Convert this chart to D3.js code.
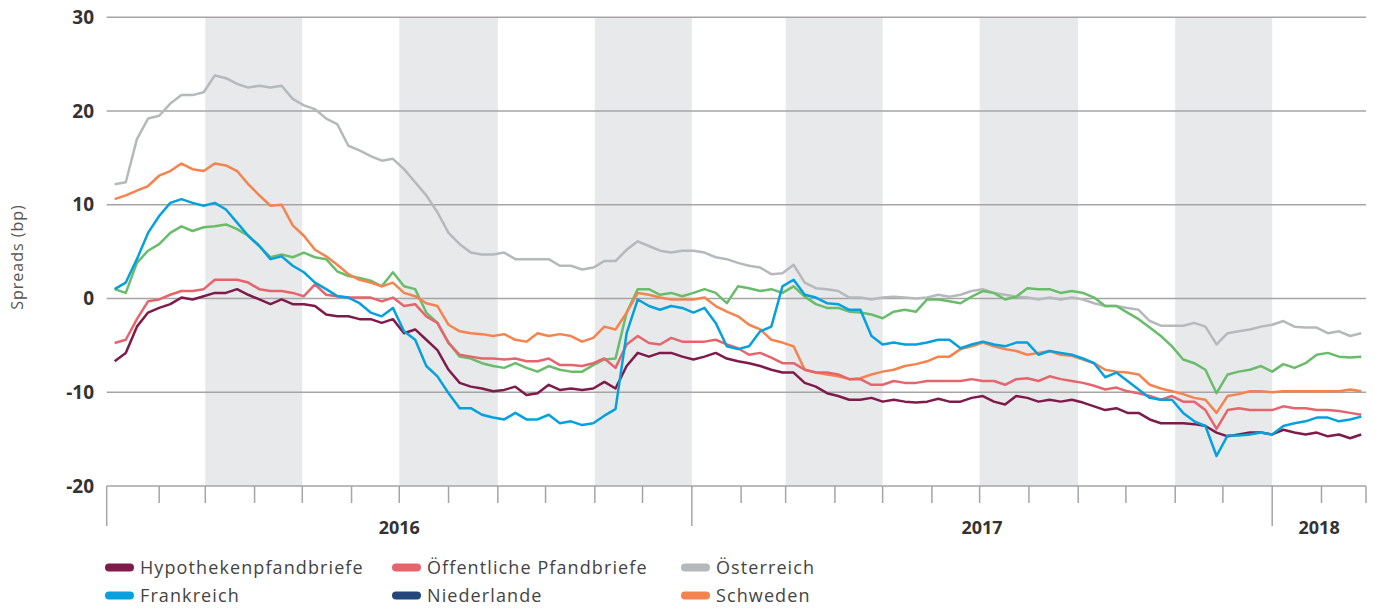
<!DOCTYPE html>
<html>
<head>
<meta charset="utf-8">
<script src="https://cdn.jsdelivr.net/npm/d3@7"></script>
<style>
  body { margin: 0; background: #fff; }
  svg { display: block; }
</style>
</head>
<body>
<svg id="chart" width="1375" height="608"></svg>
<script>
// weekly observations, first one on 4 Jan 2016
var startDate = new Date(2016, 0, 4);

var hypothekenpfandbriefe = [
    -6.7, -5.8, -3.0, -1.5, -1.0, -0.6, 0.1, -0.1, 0.25, 0.6, 0.6, 1.0, 0.4, -0.1, -0.6, -0.1, -0.6, -0.6, -0.8,
    -1.7, -1.9, -1.9, -2.2, -2.2, -2.6, -2.2, -3.7, -3.3, -4.4, -5.5, -7.6, -9.0, -9.4, -9.6, -9.9, -9.75, -9.4, -10.3,
    -10.1, -9.2, -9.75, -9.6, -9.75, -9.6, -8.9, -9.6, -7.2, -5.8, -6.2, -5.8, -5.8, -6.2, -6.5, -6.2, -5.8, -6.4, -6.7,
    -6.9, -7.2, -7.6, -7.9, -7.9, -9.0, -9.4, -10.1, -10.4, -10.8, -10.8, -10.6, -11.0, -10.8, -11.0, -11.1, -11.0, -10.7, -11.0,
    -11.0, -10.6, -10.4, -11.0, -11.3, -10.4, -10.6, -11.0, -10.8, -11.0, -10.8, -11.1, -11.5, -11.9, -11.7, -12.2, -12.2, -12.9, -13.3,
    -13.3, -13.3, -13.4, -13.6, -14.3, -14.7, -14.5, -14.3, -14.3, -14.5, -14.0, -14.3, -14.5, -14.3, -14.7, -14.5, -14.9, -14.5
];
var oeffentlichePfandbriefe = [
    -4.75, -4.4, -2.2, -0.3, -0.1, 0.4, 0.8, 0.8, 1.0, 2.0, 2.0, 2.0, 1.7, 1.0, 0.8, 0.8, 0.6, 0.25, 1.5,
    0.4, 0.25, 0.1, 0.1, 0.1, -0.3, 0.1, -0.8, -0.6, -1.9, -2.6, -4.75, -6.0, -6.2, -6.4, -6.4, -6.5, -6.4, -6.7,
    -6.7, -6.4, -7.1, -7.1, -7.2, -6.9, -6.4, -7.4, -4.9, -4.0, -4.75, -4.9, -4.2, -4.6, -4.6, -4.6, -4.4, -4.9, -5.3,
    -6.0, -5.8, -6.3, -6.9, -6.9, -7.6, -7.9, -7.9, -8.1, -8.6, -8.6, -9.2, -9.2, -8.8, -9.0, -9.0, -8.8, -8.8, -8.8,
    -8.8, -8.6, -8.8, -8.8, -9.2, -8.6, -8.5, -8.8, -8.3, -8.6, -8.8, -9.0, -9.3, -9.7, -9.5, -9.9, -10.1, -10.4, -10.8,
    -10.4, -11.0, -11.0, -11.9, -13.9, -11.9, -11.7, -11.9, -11.9, -11.9, -11.5, -11.7, -11.7, -11.9, -11.9, -12.0, -12.2, -12.4
];
var oesterreich = [
    12.2, 12.4, 17.0, 19.2, 19.5, 20.8, 21.7, 21.7, 22.0, 23.8, 23.5, 22.9, 22.5, 22.7, 22.5, 22.7, 21.3, 20.6, 20.2,
    19.2, 18.6, 16.3, 15.8, 15.2, 14.7, 14.9, 13.8, 12.4, 11.0, 9.2, 7.0, 5.8, 4.9, 4.7, 4.7, 4.9, 4.2, 4.2,
    4.2, 4.2, 3.5, 3.5, 3.1, 3.3, 4.0, 4.0, 5.2, 6.1, 5.6, 5.1, 4.9, 5.1, 5.1, 4.9, 4.4, 4.2, 3.8,
    3.5, 3.3, 2.6, 2.7, 3.6, 1.7, 1.1, 1.0, 0.8, 0.1, 0.1, -0.1, 0.1, 0.2, 0.1, 0.0, 0.1, 0.4, 0.2,
    0.4, 0.8, 1.0, 0.6, 0.4, 0.2, 0.1, -0.1, 0.1, -0.1, 0.1, -0.1, -0.5, -0.8, -0.8, -1.0, -1.2, -2.4, -2.9,
    -2.9, -2.9, -2.6, -3.0, -4.9, -3.7, -3.5, -3.3, -3.0, -2.8, -2.4, -3.0, -3.1, -3.1, -3.7, -3.5, -4.0, -3.7
];
var frankreich = [
    1.0, 1.7, 4.2, 7.0, 8.8, 10.2, 10.6, 10.2, 9.9, 10.2, 9.5, 8.1, 6.7, 5.6, 4.2, 4.5, 3.5, 2.8, 1.7,
    1.0, 0.25, 0.1, -0.5, -1.5, -1.9, -1.0, -3.5, -4.4, -7.2, -8.3, -10.1, -11.7, -11.7, -12.4, -12.7, -12.9, -12.2, -12.9,
    -12.9, -12.4, -13.3, -13.1, -13.5, -13.3, -12.5, -11.8, -3.7, -0.1, -0.8, -1.2, -0.8, -1.0, -1.5, -1.0, -2.6, -5.1, -5.4,
    -5.1, -3.5, -3.0, 1.3, 2.0, 0.4, 0.1, -0.5, -0.6, -1.2, -1.2, -4.0, -4.9, -4.7, -4.9, -4.9, -4.7, -4.4, -4.4,
    -5.3, -4.9, -4.6, -4.9, -5.1, -4.7, -4.7, -6.0, -5.6, -5.8, -6.0, -6.4, -6.9, -8.4, -7.9, -8.8, -9.7, -10.6, -10.8,
    -10.8, -12.2, -13.1, -13.6, -16.8, -14.6, -14.6, -14.5, -14.3, -14.5, -13.6, -13.3, -13.1, -12.7, -12.7, -13.1, -12.9, -12.6
];
var niederlande = [
    1.0, 0.6, 3.8, 5.1, 5.8, 7.0, 7.7, 7.2, 7.6, 7.7, 7.9, 7.4, 6.7, 5.6, 4.4, 4.7, 4.4, 4.9, 4.4,
    4.2, 2.9, 2.4, 2.2, 1.9, 1.3, 2.8, 1.3, 1.0, -1.5, -2.6, -4.7, -6.2, -6.4, -6.9, -7.2, -7.4, -6.9, -7.4,
    -7.8, -7.2, -7.6, -7.8, -7.8, -7.1, -6.5, -6.4, -1.5, 1.0, 1.0, 0.4, 0.6, 0.25, 0.6, 1.0, 0.6, -0.5, 1.3,
    1.1, 0.8, 1.0, 0.6, 1.3, 0.2, -0.6, -1.0, -1.0, -1.4, -1.5, -1.7, -2.1, -1.4, -1.2, -1.4, -0.1, -0.1, -0.3,
    -0.5, 0.2, 0.8, 0.6, -0.1, 0.2, 1.1, 1.0, 1.0, 0.6, 0.8, 0.6, 0.1, -0.8, -0.8, -1.5, -2.2, -3.1, -4.0,
    -5.1, -6.5, -6.9, -7.6, -10.1, -8.1, -7.8, -7.6, -7.2, -7.8, -7.0, -7.4, -6.9, -6.0, -5.8, -6.2, -6.3, -6.2
];
var schweden = [
    10.6, 11.0, 11.5, 12.0, 13.1, 13.6, 14.4, 13.8, 13.6, 14.4, 14.2, 13.6, 12.2, 11.0, 9.9, 10.0, 7.8, 6.7, 5.2,
    4.5, 3.6, 2.6, 2.0, 1.7, 1.3, 1.7, 0.6, 0.25, -0.5, -0.8, -2.8, -3.5, -3.7, -3.8, -4.0, -3.8, -4.4, -4.6,
    -3.7, -4.0, -3.8, -4.0, -4.6, -4.2, -3.0, -3.3, -1.5, 0.6, 0.4, 0.1, -0.1, -0.1, -0.1, 0.1, -0.8, -1.4, -1.9,
    -2.8, -3.3, -4.4, -4.7, -5.1, -7.6, -7.9, -8.1, -8.3, -8.6, -8.5, -8.1, -7.8, -7.6, -7.2, -7.0, -6.7, -6.2, -6.2,
    -5.4, -5.1, -4.7, -5.1, -5.4, -5.6, -6.0, -5.8, -5.6, -6.0, -6.1, -6.5, -6.9, -7.6, -7.8, -7.9, -8.1, -9.2, -9.6,
    -9.9, -10.2, -10.6, -10.8, -12.2, -10.4, -10.2, -9.9, -9.9, -10.0, -9.9, -9.9, -9.9, -9.9, -9.9, -9.9, -9.7, -9.9
];

var yTicks = [30, 20, 10, 0, -10, -20];
var years = ["2016", "2017", "2018"];
var shadedStarts = ["2016-03-01", "2016-07-01", "2016-11-01", "2017-03-01", "2017-07-01", "2017-11-01"];

// draw order: back to front
var series = [
    { name: "Österreich", values: oesterreich, color: "#b5b9bc" },
    { name: "Niederlande", values: niederlande, color: "#69bd6a" },
    { name: "Schweden", values: schweden, color: "#f5834e" },
    { name: "Öffentliche Pfandbriefe", values: oeffentlichePfandbriefe, color: "#e6646b" },
    { name: "Hypothekenpfandbriefe", values: hypothekenpfandbriefe, color: "#7e1b4b" },
    { name: "Frankreich", values: frankreich, color: "#05a1df" }
];

var legendItems = [
    { name: "Hypothekenpfandbriefe", color: "#7e1b4b" },
    { name: "Öffentliche Pfandbriefe", color: "#e6646b" },
    { name: "Österreich", color: "#b5b9bc" },
    { name: "Frankreich", color: "#05a1df" },
    { name: "Niederlande", color: "#24467a" },
    { name: "Schweden", color: "#f5834e" }
];

var svg = d3.select("svg#chart");

var plotLeft = 106.7, plotRight = 1366, plotTop = 17.3, plotBottom = 486;
var parseDay = d3.timeParse("%Y-%m-%d");

var x = d3.scaleTime()
    .domain([new Date(2015, 11, 30), new Date(2018, 2, 1)])
    .range([plotLeft, plotRight]);

var y = d3.scaleLinear()
    .domain([-20, 30])
    .range([plotBottom, plotTop]);

var dateAt = i => d3.timeDay.offset(startDate, 7 * i);

// shaded periods
svg.append("g")
    .selectAll("rect")
    .data(shadedStarts)
    .enter()
    .append("rect")
    .attr("x", d => x(parseDay(d)))
    .attr("y", plotTop)
    .attr("width", d => x(d3.timeMonth.offset(parseDay(d), 2)) - x(parseDay(d)))
    .attr("height", plotBottom - plotTop)
    .attr("fill", "#e8e9eb");

// grid
svg.append("g")
    .selectAll("line")
    .data(yTicks)
    .enter()
    .append("line")
    .attr("x1", plotLeft)
    .attr("x2", plotRight)
    .attr("y1", d => y(d))
    .attr("y2", d => y(d))
    .attr("stroke", "#a5a5a5")
    .attr("stroke-width", 1.5);

svg.append("g")
    .selectAll("text")
    .data(yTicks)
    .enter()
    .append("text")
    .attr("x", 94)
    .attr("y", d => y(d) + 6.5)
    .attr("text-anchor", "end")
    .attr("font-family", "Open Sans")
    .attr("font-weight", "bold")
    .attr("font-size", "19px")
    .attr("fill", "#333")
    .text(d => d);

svg.append("text")
    .attr("transform", "translate(23,257) rotate(-90)")
    .attr("text-anchor", "middle")
    .attr("font-family", "Open Sans")
    .attr("font-size", "16px")
    .attr("letter-spacing", "1px")
    .attr("fill", "#555")
    .text("Spreads (bp)");

// x axis: axis start plus month ticks, long ones at year boundaries
var months = d3.timeMonth.range(new Date(2016, 1, 1), new Date(2018, 2, 2));
var tickData = [{ pos: plotLeft, long: true }].concat(
    months.map(d => ({ pos: x(d), long: d.getMonth() === 0 }))
);

svg.append("g")
    .selectAll("line")
    .data(tickData)
    .enter()
    .append("line")
    .attr("x1", d => d.pos)
    .attr("x2", d => d.pos)
    .attr("y1", plotBottom)
    .attr("y2", d => d.long ? 526 : 503)
    .attr("stroke", "#a5a5a5")
    .attr("stroke-width", 1.5);

svg.append("g")
    .selectAll("text")
    .data(years)
    .enter()
    .append("text")
    .attr("x", d => {
        var a = d === "2016" ? plotLeft : x(new Date(+d, 0, 1));
        var b = d === "2018" ? plotRight : x(new Date(+d + 1, 0, 1));
        return (a + b) / 2;
    })
    .attr("y", 534)
    .attr("text-anchor", "middle")
    .attr("font-family", "Open Sans")
    .attr("font-weight", "bold")
    .attr("font-size", "18px")
    .attr("fill", "#333")
    .text(d => d);

// lines
var line = d3.line()
    .x((d, i) => x(dateAt(i)))
    .y(d => y(d));

svg.append("g")
    .selectAll("path")
    .data(series)
    .enter()
    .append("path")
    .attr("d", d => line(d.values))
    .attr("fill", "none")
    .attr("stroke", d => d.color)
    .attr("stroke-width", 2.5)
    .attr("stroke-linejoin", "round");

// legend
var legend = svg.append("g")
    .selectAll("g")
    .data(legendItems)
    .enter()
    .append("g")
    .attr("transform", (d, i) => "translate(" + [109, 396, 685][i % 3] + "," + (567.5 + Math.floor(i / 3) * 28) + ")");

legend.append("line")
    .attr("x1", 0)
    .attr("x2", 21)
    .attr("stroke", d => d.color)
    .attr("stroke-width", 8)
    .attr("stroke-linecap", "round");

legend.append("text")
    .attr("x", 31)
    .attr("y", 6.5)
    .attr("font-family", "Open Sans")
    .attr("font-size", "18px")
    .attr("letter-spacing", "1.1px")
    .attr("fill", "#444")
    .text(d => d.name);
</script>
</body>
</html>
